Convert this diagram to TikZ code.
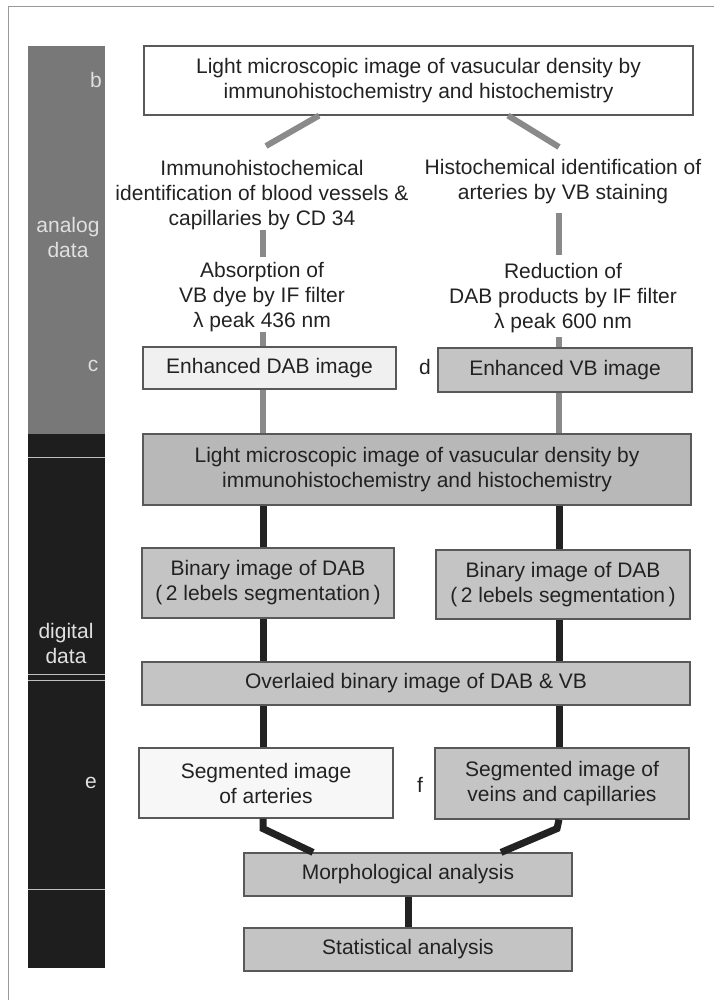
\documentclass[tikz,border=0pt]{standalone}
\usepackage{fontspec}
\setmainfont{Liberation Sans}
\usepackage{xcolor}
\usepackage{tikz}
\usetikzlibrary{arrows.meta}
\definecolor{bargrey}{HTML}{787878}
\definecolor{bardark}{HTML}{1E1E1E}
\definecolor{boxgrey}{HTML}{C4C4C4}
\definecolor{linegrey}{HTML}{8A8A8A}
\definecolor{inkdark}{HTML}{222222}

\begin{document}
\begin{tikzpicture}[x=1pt,y=-1pt,font=\fontsize{21}{25}\selectfont,
txt/.style={align=center,inner sep=0pt,text=inkdark,anchor=north},
box/.style={draw=black!65,line width=1.2pt,fill=boxgrey,align=center,text=inkdark,inner sep=0pt},
lbl/.style={text=white!88!black,align=center,inner sep=0pt},
gline/.style={linegrey,line width=6pt},
dline/.style={inkdark,line width=7pt}]
\useasboundingbox(0,0)rectangle(714,1003);
\draw[black!40,line width=1pt](8,1000)--(8,7)--(714,7);
\fill[bargrey](28,46)rectangle(105,434);
\fill[bardark](28,434)rectangle(105,968);
\foreach \yy in {457,674,680,889}
  \draw[white!75!black,line width=0.8pt](28,\yy)--(105,\yy);
\node[lbl](lb) at (96,80){b};
\node[lbl](lanalog) at (68,237){analog\\data};
\node[lbl](lc) at (93,366){c};
\node[lbl](ldigital) at (66,643){digital\\data};
\node[lbl](le) at (91,783){e};
\node[box,fill=white,minimum width=549pt,minimum height=69pt](top) at (418.5,80.5){Light microscopic image of vasucular density by\\immunohistochemistry and histochemistry};
\node[txt](immu) at (262,160){Immunohistochemical\\identification of blood vessels \&\\capillaries by CD 34};
\node[txt](histo) at (563,159){Histochemical identification of\\arteries by VB staining};
\node[txt](absorp) at (262,262){Absorption of\\VB dye by IF filter\\λ peak 436 nm};
\node[txt](reduc) at (563,263){Reduction of\\DAB products by IF filter\\λ peak 600 nm};
\node[box,fill=black!6,minimum width=253pt,minimum height=42pt](dab) at (269.5,368){Enhanced DAB image};
\node[txt,anchor=center](ld) at (425,367){d};
\node[box,minimum width=254pt,minimum height=44pt](vb) at (565,370){Enhanced VB image};
\node[box,fill=boxgrey!94!black,minimum width=548pt,minimum height=71pt](big) at (417,469.5){Light microscopic image of vasucular density by\\immunohistochemistry and histochemistry};
\node[box,minimum width=252pt,minimum height=70pt](binl) at (268,583){Binary image of DAB\\(\,2 lebels segmentation\,)};
\node[box,minimum width=254pt,minimum height=69pt](binr) at (563,584.5){Binary image of DAB\\(\,2 lebels segmentation\,)};
\node[box,minimum width=548pt,minimum height=43pt](over) at (416,683.5){Overlaied binary image of DAB \& VB};
\node[box,fill=white!97!black,minimum width=254pt,minimum height=70pt](segl) at (266,783){Segmented image\\of arteries};
\node[txt,anchor=center](lf) at (420,785){f};
\node[box,minimum width=254pt,minimum height=71pt](segr) at (562,783.5){Segmented image of\\veins and capillaries};
\node[box,minimum width=328pt,minimum height=43pt](morph) at (408,874.5){Morphological analysis};
\node[box,minimum width=328pt,minimum height=43pt](stat) at (408,949.5){Statistical analysis};
\coordinate(lcol) at (263,0);
\coordinate(rcol) at (559,0);
\draw[gline]([xshift=-99.5pt]top.south)--([xshift=4pt,yshift=14pt]immu.north);
\draw[gline]([xshift=89.5pt]top.south)--([xshift=-4pt,yshift=12pt]histo.north);
\draw[gline,shorten >=5pt](immu.south-|lcol)--(absorp.north-|lcol);
\draw[gline,shorten <=9pt,shorten >=8pt](histo.south-|rcol)--(reduc.north-|rcol);
\draw[gline](absorp.south-|lcol)--(dab.north-|lcol);
\draw[gline,shorten <=4pt](reduc.south-|rcol)--(vb.north-|rcol);
\draw[gline](dab.south-|lcol)--(big.north-|lcol);
\draw[gline](vb.south-|rcol)--(big.north-|rcol);
\foreach \a/\b in {big/binl,binl/over,over/segl}
  \draw[dline](\a.south-|lcol)--(\b.north-|lcol);
\foreach \a/\b in {big/binr,binr/over,over/segr}
  \draw[dline](\a.south-|rcol)--(\b.north-|rcol);
\draw[dline](segl.south-|lcol)--++(0,10)--([xshift=-95pt]morph.north);
\draw[dline](segr.south-|rcol)--++(-2,9)--([xshift=93pt]morph.north);
\draw[dline](morph)--(stat);
\end{tikzpicture}
\end{document}
